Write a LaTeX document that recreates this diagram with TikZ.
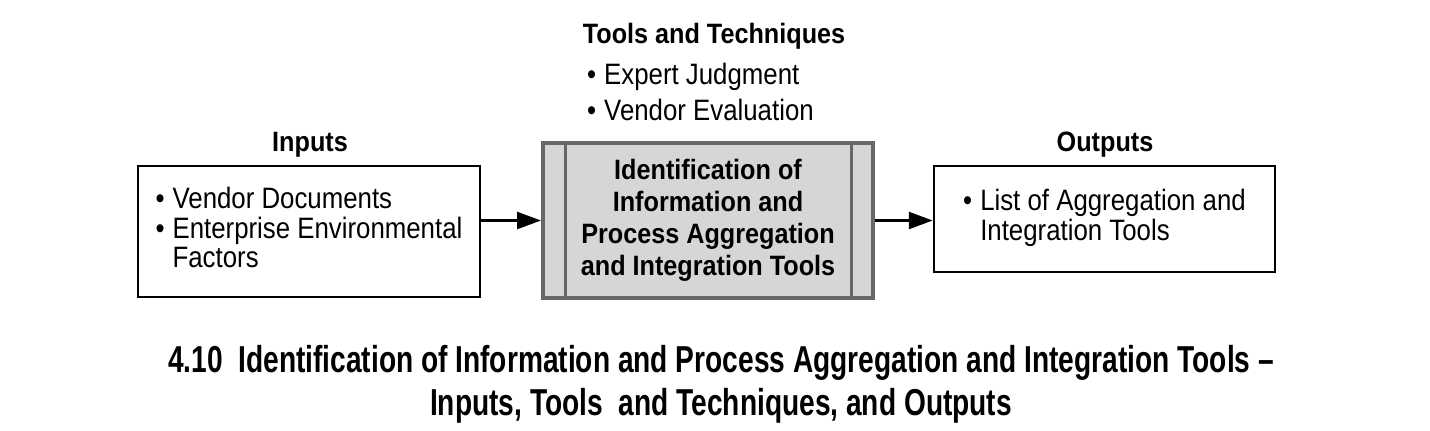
\documentclass[tikz,border=0pt]{standalone}
\usepackage{fontspec}
\setmainfont{Liberation Sans}[FakeStretch=0.875,BoldFeatures={FakeStretch=0.9}]
\newfontfamily\capfont{Liberation Sans}[FakeStretch=0.75,BoldFeatures={FakeStretch=0.75}]
\usetikzlibrary{arrows.meta,calc}
\tikzset{
  txt/.style={inner sep=0pt,font=\fontsize{29.5}{28.5}\selectfont},
  head/.style={inner sep=0pt,font=\fontsize{28}{28.5}\selectfont\bfseries},
  iobox/.style={draw=black,line width=2.5pt,fill=white,inner sep=0pt,align=left,font=\fontsize{29.5}{28.5}\selectfont},
  procbox/.style={draw=procgray,line width=4pt,fill=procfill,inner sep=0pt,align=center,font=\fontsize{28}{32}\selectfont\bfseries},
  divider/.style={draw=procgray,line width=3pt},
  arr/.style={line width=2.5pt,-{Triangle[length=24pt,width=17pt]}},
  captxt/.style={inner sep=0pt,align=center,font=\capfont\bfseries\fontsize{37.5}{43}\selectfont},
}
\definecolor{procgray}{HTML}{676767}
\definecolor{procfill}{HTML}{D6D6D6}
\begin{document}
\begin{tikzpicture}[x=1pt,y=-1pt]
\useasboundingbox[fill=white] (0,0) rectangle (1430,431);
% titles
\node[head] (tthead) at (714,36) {Tools and Techniques};
\node[txt,anchor=west] (ttlist) at (587,96) {\begin{tabular}{@{}l@{\hspace{8pt}}l@{}}\textbullet & Expert Judgment\\[6.5pt] \textbullet & Vendor Evaluation\end{tabular}};
\node[head] (inhead) at (310,145) {Inputs};
\node[head] (outhead) at (1105,145) {Outputs};
% boxes
\node[iobox,minimum width=342pt,minimum height=131pt] (in) at (309,231.5)
  {\begin{tabular}{@{}l@{\hspace{8pt}}l@{}}\textbullet & Vendor Documents\\ \textbullet & Enterprise Environmental\\ & Factors\end{tabular}};
\node[procbox,minimum width=330pt,minimum height=155pt] (proc) at (708,220.5)
  {Identification of\\Information and\\Process Aggregation\\and Integration Tools};
\draw[divider] ($(proc.north west)+(24,0)$) -- ($(proc.south west)+(24,0)$);
\draw[divider] ($(proc.north east)+(-24,0)$) -- ($(proc.south east)+(-24,0)$);
\node[iobox,minimum width=341pt,minimum height=106pt] (out) at (1104.5,219)
  {\begin{tabular}{@{}l@{\hspace{8pt}}l@{}}\textbullet & List of Aggregation and\\ & Integration Tools\end{tabular}};
% arrows
\draw[arr] (in.east |- proc.west) -- (proc.west);
\draw[arr] (proc.east) -- (proc.east -| out.west);
% caption
\node[captxt] (cap) at (721,384)
  {4.10\ \ Identification of Information and Process Aggregation and Integration Tools –\\Inputs, Tools\ \ and Techniques, and Outputs};
\end{tikzpicture}
\end{document}
